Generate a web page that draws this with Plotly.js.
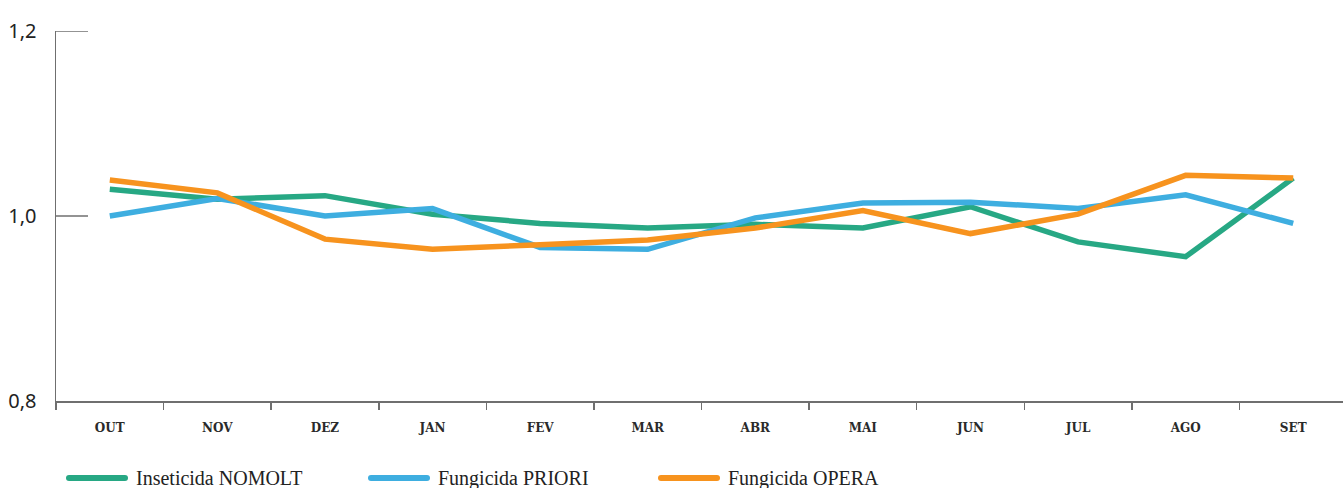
<!DOCTYPE html>
<html><head><meta charset="utf-8">
<script src="https://cdn.plot.ly/plotly-3.0.1.min.js"></script>
<style>html,body{margin:0;padding:0;background:#fff}#c{width:1343px;height:488px}</style>
</head><body><div id="c"></div>
<script>
const months = ["OUT","NOV","DEZ","JAN","FEV","MAR","ABR","MAI","JUN","JUL","AGO","SET"];
const nomolt = [1.029,1.018,1.022,1.002,0.992,0.987,0.991,0.987,1.010,0.972,0.956,1.041];
const priori = [1.000,1.019,1.000,1.008,0.966,0.964,0.998,1.014,1.015,1.008,1.023,0.992];
const opera  = [1.039,1.025,0.975,0.964,0.969,0.974,0.987,1.006,0.981,1.002,1.044,1.041];
const seriesNames = ["Inseticida NOMOLT","Fungicida PRIORI","Fungicida OPERA"];
const seriesColors = ["#27a884","#3eaee0","#f7931e"];
const yTicks = [0.8,1.0,1.2];
const yTickText = ["0,8","1,0","1,2"];

const data = [nomolt, priori, opera].map((v,i)=>({
  x: months, y: v, type:'scatter', mode:'lines', name: seriesNames[i],
  line:{color: seriesColors[i], width:5.5}, hoverinfo:'skip'
}));

const L = 56, W = 1287, T = 31, H = 370;
const px = x => (x - L) / W;
const py = y => (T + H - y) / H;
const shapes = [], annotations = [];

// inside y ticks (drawn as shapes)
yTicks.slice(1).forEach(v=>{
  shapes.push({type:'line', xref:'paper', yref:'y', x0:0, x1:px(88), y0:v, y1:v,
    line:{color:'#6f6f6f', width:1.5}});
});

// custom legend
const legX = [66, 368, 658];
const legY = 478;
seriesNames.forEach((n,i)=>{
  shapes.push({type:'line', xref:'paper', yref:'paper', x0:px(legX[i]+3), x1:px(legX[i]+59), y0:py(legY), y1:py(legY),
    line:{color:seriesColors[i], width:6}});
  shapes.push({type:'circle', xref:'paper', yref:'paper', x0:px(legX[i]), x1:px(legX[i]+6), y0:py(legY-3), y1:py(legY+3), line:{width:0}, fillcolor:seriesColors[i]});
  shapes.push({type:'circle', xref:'paper', yref:'paper', x0:px(legX[i]+56), x1:px(legX[i]+62), y0:py(legY-3), y1:py(legY+3), line:{width:0}, fillcolor:seriesColors[i]});
  annotations.push({xref:'paper', yref:'paper', x:px(legX[i]+68), y:py(legY), xanchor:'left', yanchor:'middle',
    text:n, showarrow:false, font:{family:'Liberation Serif, serif', size:20, color:'#222'}});
});

const layout = {
  width:1343, height:488,
  margin:{l:56, r:0, t:31, b:87, pad:0},
  paper_bgcolor:'#fff', plot_bgcolor:'#fff',
  showlegend:false,
  xaxis:{type:'category', range:[-0.5, 11.5-4/107.25], showgrid:false, zeroline:false,
    showline:true, linecolor:'#6f6f6f', linewidth:1.5,
    ticks:'outside', tickson:'boundaries', ticklen:7, tickcolor:'#6f6f6f', tickwidth:1.5,
    ticklabelstandoff:15,
    tickfont:{family:'DejaVu Serif, serif', size:12, color:'#2a2a2a', weight:'bold'}},
  yaxis:{range:[0.8,1.2], tickvals:yTicks, ticktext:yTickText, showgrid:false, zeroline:false,
    showline:true, linecolor:'#6f6f6f', linewidth:1.5,
    ticks:'', ticklabelstandoff:14,
    tickfont:{family:'Noto Sans, Open Sans, sans-serif', size:20, color:'#222'}},
  shapes, annotations
};
Plotly.newPlot('c', data, layout, {staticPlot:true, displayModeBar:false});
</script></body></html>
